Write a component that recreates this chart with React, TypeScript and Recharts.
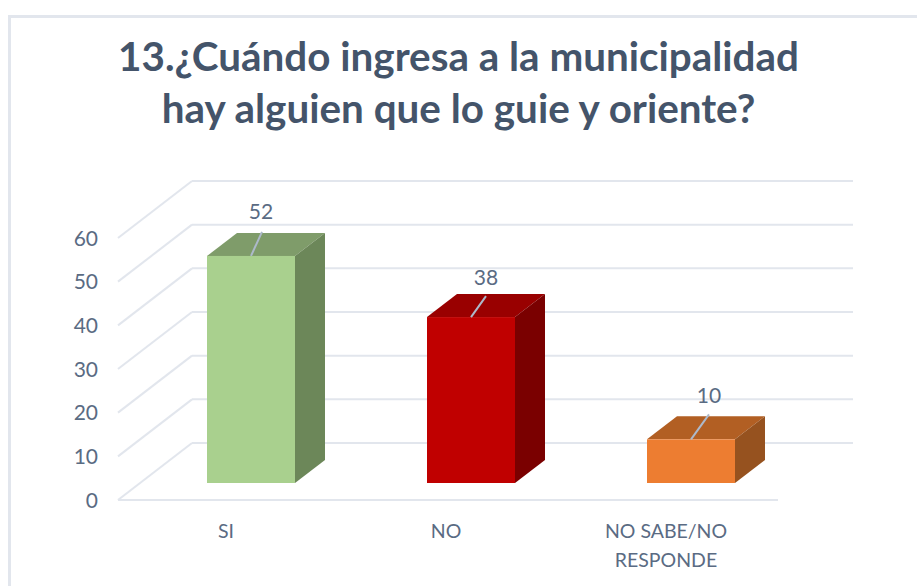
import { BarChart, Bar, XAxis, YAxis, CartesianGrid } from 'recharts';

const categories = ['SI', 'NO', 'NO SABE/NO RESPONDE'];
const values = [52, 38, 10];
const yTicks = [0, 10, 20, 30, 40, 50, 60];
const titleLines = ['13.¿Cuándo ingresa a la municipalidad', 'hay alguien que lo guie y oriente?'];

const frontColors = ['#A9D08E', '#C00000', '#ED7D31'];
const topColors = ['#7F9C6A', '#990000', '#B25F23'];
const sideColors = ['#6C8759', '#7A0000', '#96521F'];

// fake 3D geometry, in px
const FONT = 'Lato, Carlito, sans-serif';
const GRID = '#E2E6ED';
const TEXT = '#5A6B83';
const wall = { dx: 74, dy: -57 };
const depth = { dx: 30, dy: -23 };
const barShift = { dx: 23, dy: -17 };
const leaders = [
  { dx: 11, dy: -24, labelDx: 10, labelDy: -45 },
  { dx: 15, dy: -21, labelDx: 15, labelDy: -41 },
  { dx: 18, dy: -25, labelDx: 18, labelDy: -45 },
];

// one grid line per y tick: side wall + back wall, plus the floor edge at zero
const WallLine = (props: any) => {
  const { x1, x2, y1 } = props;
  const isFloor = Math.round(y1) >= 499;
  return (
    <g>
      <line x1={x1} y1={y1} x2={x1 + wall.dx} y2={y1 + wall.dy} stroke={GRID} strokeWidth={2} />
      <line x1={x1 + wall.dx} y1={y1 + wall.dy} x2={x2 + wall.dx + 1} y2={y1 + wall.dy} stroke={GRID} strokeWidth={2} />
      {isFloor && <line x1={x1} y1={y1} x2={x2} y2={y1} stroke={GRID} strokeWidth={2} />}
    </g>
  );
};

const ValueTick = (props: any) => {
  const { x, y, payload } = props;
  return (
    <text x={x - 12} y={y - 1} textAnchor="end" dominantBaseline="central" fontSize={21} fontFamily={FONT} fill={TEXT}>
      {payload.value}
    </text>
  );
};

const CategoryTick = (props: any) => {
  const { x, payload } = props;
  const label: string = payload.value;
  const lines = label.length > 10 ? [label.slice(0, label.lastIndexOf(' ')), label.slice(label.lastIndexOf(' ') + 1)] : [label];
  return (
    <text x={x - 2} textAnchor="middle" fontSize={19.5} fontFamily={FONT} fill={TEXT}>
      {lines.map((line, i) => (
        <tspan key={line} x={x - 2} y={538 + i * 29}>
          {line}
        </tspan>
      ))}
    </text>
  );
};

const Box3D = (props: any) => {
  const { x, y, width, height, index, value } = props;
  const fx = x + barShift.dx;
  const fy = y + barShift.dy;
  const { dx, dy } = depth;
  const leader = leaders[index];
  const midX = fx + width / 2;
  return (
    <g>
      <path d={`M${fx},${fy} L${fx + dx},${fy + dy} L${fx + width + dx},${fy + dy} L${fx + width},${fy} Z`} fill={topColors[index]} />
      <path d={`M${fx + width},${fy} L${fx + width + dx},${fy + dy} L${fx + width + dx},${fy + height + dy} L${fx + width},${fy + height} Z`} fill={sideColors[index]} />
      <rect x={fx} y={fy} width={width} height={height} fill={frontColors[index]} />
      <line x1={midX} y1={fy} x2={midX + leader.dx} y2={fy + leader.dy} stroke="#ADB9CA" strokeWidth={2} />
      <text x={midX + leader.labelDx} y={fy + leader.labelDy} textAnchor="middle" dominantBaseline="central" fontSize={21} fontFamily={FONT} fill={TEXT}>
        {value}
      </text>
    </g>
  );
};

const App = () => {
  const data = categories.map((name, i) => ({ name, value: values[i] }));

  return (
    <div style={{ position: 'absolute', left: 0, top: 0, width: 917, height: 586, overflow: 'hidden', background: '#fff' }}>
      <div
        style={{
          position: 'absolute',
          left: 8,
          top: 15,
          width: 909,
          height: 571,
          boxSizing: 'border-box',
          borderTop: '3px solid #E2E6ED',
          borderLeft: '3px solid #E2E6ED',
        }}
      />
      <div
        style={{
          position: 'absolute',
          left: 0,
          top: 30,
          width: 917,
          textAlign: 'center',
          fontFamily: FONT,
          fontWeight: 700,
          fontSize: 40.4,
          lineHeight: '52px',
          color: '#44546A',
        }}
      >
        {titleLines.map((line) => (
          <div key={line}>{line}</div>
        ))}
      </div>
      <div style={{ position: 'absolute', left: 0, top: 0 }}>
        <BarChart width={917} height={586} data={data} margin={{ top: 238, right: 139, bottom: 36, left: 58 }}>
          <CartesianGrid vertical={false} horizontal={<WallLine />} />
          <YAxis
            width={60}
            domain={[0, 60]}
            ticks={yTicks}
            axisLine={false}
            tickLine={false}
            tick={<ValueTick />}
            interval={0}
          />
          <XAxis dataKey="name" height={50} axisLine={false} tickLine={false} tick={<CategoryTick />} interval={0} />
          <Bar dataKey="value" barSize={88} shape={<Box3D />} isAnimationActive={false} />
        </BarChart>
      </div>
    </div>
  );
};

export default App;
